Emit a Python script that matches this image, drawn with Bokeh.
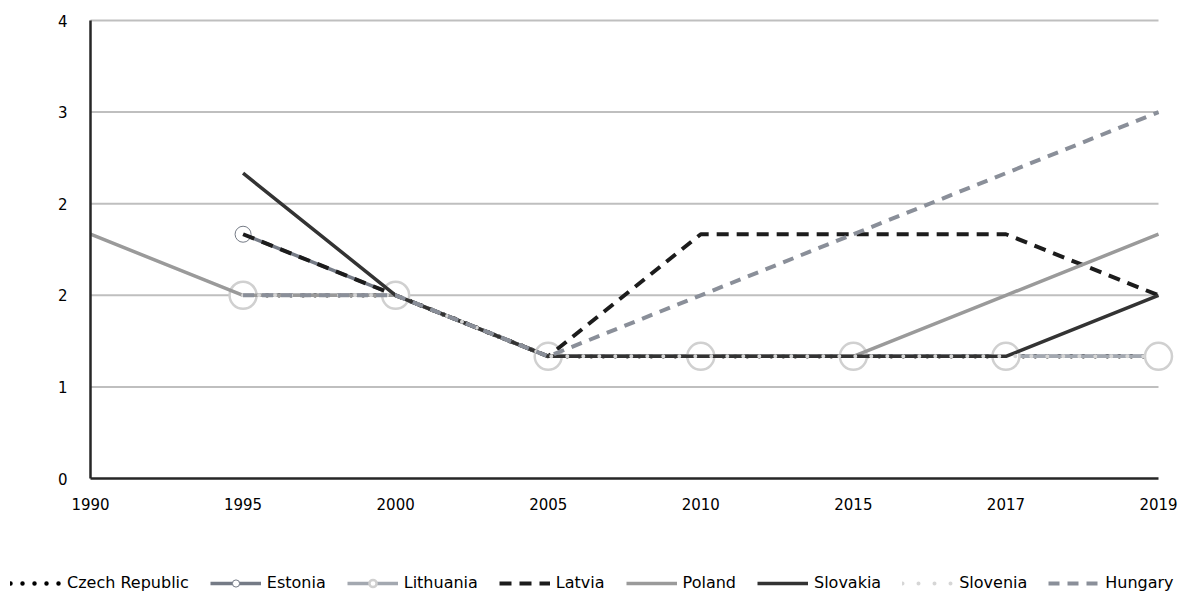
from bokeh.plotting import figure
from bokeh.models import Range1d, Legend, LegendItem
from bokeh.core.properties import value
from bokeh.embed import file_html
from bokeh.resources import INLINE

nan = float("nan")

years = ["1990", "1995", "2000", "2005", "2010", "2015", "2017", "2019"]
czech_republic = [nan, 1.5, 1.5, 1.0, 1.0, 1.0, 1.0, 1.0]
estonia = [nan, 2.0, 1.5, 1.0, 1.0, 1.0, 1.0, 1.0]
lithuania = [nan, 1.5, 1.5, 1.0, 1.0, 1.0, 1.0, 1.0]
latvia = [nan, 2.0, 1.5, 1.0, 2.0, 2.0, 2.0, 1.5]
poland = [2.0, 1.5, 1.5, 1.0, 1.0, 1.0, 1.5, 2.0]
slovakia = [nan, 2.5, 1.5, 1.0, 1.0, 1.0, 1.0, 1.5]
slovenia = [nan, 1.5, 1.5, 1.0, 1.0, 1.0, 1.0, 1.0]
hungary = [nan, 1.5, 1.5, 1.0, 1.5, 2.0, 2.5, 3.0]

y_ticks = [0, 0.75, 1.5, 2.25, 3.0, 3.75]
y_tick_labels = ["0", "1", "2", "2", "3", "4"]

FONT = "DejaVu Sans"
x = list(range(len(years)))

# canvas geometry (pixels): plotting area inside the full canvas
W, H = 1182, 598
L, R, T, B = 90, 1158, 20, 478
sx = (R - L) / (x[-1] - x[0])
sy = (B - T) / (y_ticks[-1] - y_ticks[0])
x_range = Range1d(x[0] - L / sx, x[-1] + (W - R) / sx)
y_range = Range1d(y_ticks[0] - (H - B) / sy, y_ticks[-1] + T / sy)

p = figure(width=W, height=H, x_range=x_range, y_range=y_range,
           output_backend="svg", toolbar_location=None,
           x_axis_location=None, y_axis_location=None, min_border=0)
p.outline_line_color = None
p.grid.visible = False
p.background_fill_color = "white"
p.border_fill_color = "white"

# horizontal gridlines
n = len(y_ticks) - 1
p.segment(x0=[x[0]] * n, x1=[x[-1]] * n, y0=y_ticks[1:], y1=y_ticks[1:],
          line_color="#bfbfbf", line_width=2)

styles = [
    ("Czech Republic", czech_republic, dict(line_color="#000000", line_width=4.5, line_dash="0 12", line_cap="round"), None),
    ("Estonia", estonia, dict(line_color="#757b86", line_width=3.5), dict(size=16, line_color="#757b86", line_width=1, fill_color="white")),
    ("Lithuania", lithuania, dict(line_color="#a3a8b0", line_width=3.5), dict(size=27, line_color="#d0d0d0", line_width=2.5, fill_color="white")),
    ("Latvia", latvia, dict(line_color="#1c1c1c", line_width=4, line_dash="12 8"), None),
    ("Poland", poland, dict(line_color="#9a9a9a", line_width=3.5), None),
    ("Slovakia", slovakia, dict(line_color="#333333", line_width=3.5), None),
    ("Slovenia", slovenia, dict(line_color="#d6d6d6", line_width=4, line_dash="0 16", line_cap="round"), None),
    ("Hungary", hungary, dict(line_color="#8a8f99", line_width=4, line_dash="11 8"), None),
]

items = []
for name, vals, lstyle, mstyle in styles:
    rs = [p.line(x, vals, **lstyle)]
    if mstyle:
        rs.append(p.scatter(x, vals, marker="circle", **mstyle))
    items.append(LegendItem(label=name, renderers=rs, index=1))

# axis lines
p.segment(x0=[x[0], x[0]], y0=[y_ticks[0], y_ticks[0]],
          x1=[x[0], x[-1]], y1=[y_ticks[-1], y_ticks[0]],
          line_color="#262626", line_width=2.5)

# tick labels
p.text(x=x, y=[y_ticks[0]] * len(x), text=years, text_align="center",
       text_baseline="middle", y_offset=25, text_font=value(FONT),
       text_font_size="15px", text_color="#000000")
p.text(x=[x[0]] * len(y_ticks), y=y_ticks, text=y_tick_labels,
       text_align="right", text_baseline="middle", x_offset=-23,
       text_font=value(FONT), text_font_size="15px", text_color="#000000")

legend = Legend(items=items, orientation="horizontal", location=(10, 6),
                glyph_width=51, glyph_height=18, label_standoff=6, spacing=21,
                label_width=0, padding=0, margin=0, border_line_color=None,
                background_fill_alpha=0, label_text_font=FONT,
                label_text_font_size="16px", label_text_color="#000000",
                label_height=18)
p.add_layout(legend, "center")

open("out.html", "w").write(file_html(p, INLINE))
